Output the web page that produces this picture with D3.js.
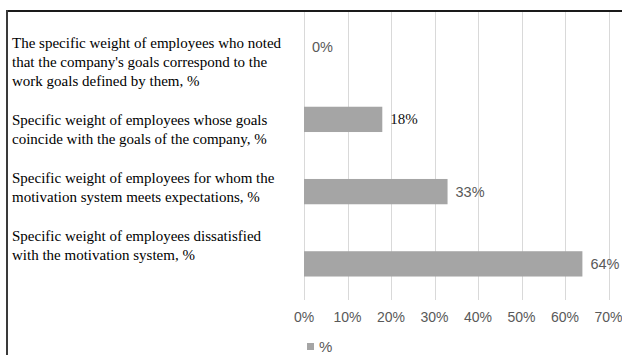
<!DOCTYPE html>
<html>
<head>
<script src="https://d3js.org/d3.v7.min.js"></script>
<style>
  body { margin: 0; background: #fff; }
  .grid line { stroke: #d9d9d9; stroke-width: 1px; }
  .bar { fill: #a5a5a5; }
  .tick-label { font-family: "Liberation Sans", Arial, sans-serif; font-size: 14px; fill: #595959; }
  .cat { font-family: "Liberation Serif", "Times New Roman", serif; font-size: 15px; fill: #000; }
</style>
</head>
<body>
<script>
// chart values
var categories = [
  ["The specific weight of employees who noted", "that the company's goals correspond to the", "work goals defined by them, %"],
  ["Specific weight of employees whose goals", "coincide with the goals of the company, %"],
  ["Specific weight of employees for whom the", "motivation system meets expectations, %"],
  ["Specific weight of employees dissatisfied", "with the motivation system, %"]
];
var values = [0, 18, 33, 64];
var tickValues = [0, 10, 20, 30, 40, 50, 60, 70];
var seriesName = "%";

var W = 622, H = 355;
var plot = {left: 304, right: 608.5, top: 11, bottom: 300};

var svg = d3.select("body").append("svg")
    .attr("width", W)
    .attr("height", H);

// frame (top and left edges only)
svg.append("line").attr("x1", 7).attr("x2", W).attr("y1", 11).attr("y2", 11)
    .attr("stroke", "#1a1a1a").attr("stroke-width", 2);
svg.append("line").attr("x1", 7).attr("x2", 7).attr("y1", 10).attr("y2", H)
    .attr("stroke", "#3a3a3a").attr("stroke-width", 2);

var x = d3.scaleLinear().domain([0, 70]).range([plot.left, plot.right]);
var y = d3.scaleBand().domain(d3.range(values.length))
    .range([plot.top, plot.bottom]).paddingInner(0.65).paddingOuter(0.325);

// gridlines
svg.append("g").attr("class", "grid")
  .selectAll("line").data(tickValues).enter().append("line")
    .attr("x1", function(d) { return Math.round(x(d)) + 0.5; })
    .attr("x2", function(d) { return Math.round(x(d)) + 0.5; })
    .attr("y1", plot.top + 1)
    .attr("y2", plot.bottom);

// bars
svg.selectAll("rect.bar").data(values).enter().append("rect")
    .attr("class", "bar")
    .attr("x", x(0))
    .attr("y", function(d, i) { return y(i); })
    .attr("width", function(d) { return x(d) - x(0); })
    .attr("height", y.bandwidth());

// value labels
svg.selectAll("text.val").data(values).enter().append("text")
    .attr("class", "val")
    .attr("x", function(d) { return x(d) + 8; })
    .attr("y", function(d, i) { return y(i) + y.bandwidth() / 2 + 5; })
    .style("font-family", function(d, i) { return i == 1 ? "'Liberation Serif', serif" : "'Liberation Sans', Arial, sans-serif"; })
    .style("font-size", function(d, i) { return i == 1 ? "15px" : "14.5px"; })
    .style("fill", function(d, i) { return i == 1 ? "#111" : "#595959"; })
    .text(function(d) { return d + "%"; });

// x axis labels
svg.selectAll("text.tick-label").data(tickValues).enter().append("text")
    .attr("class", "tick-label")
    .attr("x", function(d) { return x(d); })
    .attr("y", 322)
    .attr("text-anchor", "middle")
    .text(function(d) { return d + "%"; });

// category labels, flowing like paragraphs with a blank line between
var lineH = 19.3, lineNo = 0;
var catG = svg.append("g");
categories.forEach(function(lines) {
  lines.forEach(function(t) {
    catG.append("text").attr("class", "cat")
      .attr("x", 12)
      .attr("y", 47.5 + lineNo * lineH)
      .text(t);
    lineNo++;
  });
  lineNo++;
});

// legend
svg.append("rect").attr("x", 307).attr("y", 343).attr("width", 7).attr("height", 7)
    .attr("fill", "#a5a5a5");
svg.append("text").attr("class", "tick-label")
    .attr("x", 319).attr("y", 352)
    .style("font-size", "15px")
    .text(seriesName);
</script>
</body>
</html>
